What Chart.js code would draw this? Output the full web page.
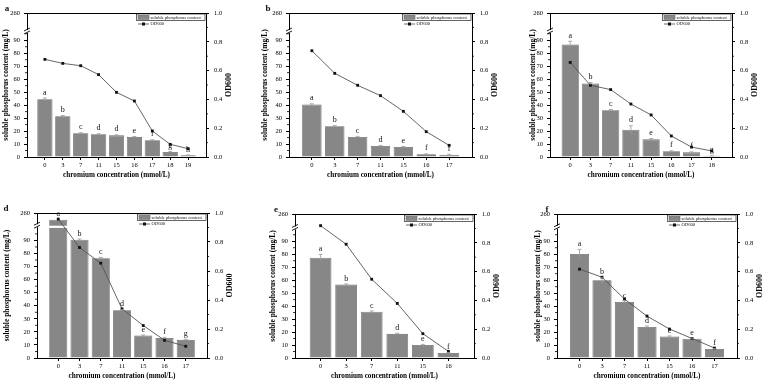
<!DOCTYPE html>
<html>
<head>
<meta charset="utf-8">
<script src="https://cdn.jsdelivr.net/npm/chart.js@4.4.1/dist/chart.umd.min.js"></script>
<style>
html, body { margin: 0; padding: 0; background: #fff; overflow: hidden; }
#wrap { position: relative; width: 767px; height: 384px; }
#wrap canvas { position: absolute; }
</style>
</head>
<body>
<div id="wrap"></div>
<script>
// values (mg/L and OD600)
var concA = ['0', '3', '7', '11', '15', '16', '17', '18', '19'];
var phosA = [44.5, 31.4, 18.3, 17.5, 16.7, 15.4, 12.9, 3.9, 1.3];
var errA = [1.0, 0.6, 0.4, 0.4, 0.4, 0.4, 0.4, 0.4, 0.3];
var odA = [0.678, 0.650, 0.634, 0.572, 0.449, 0.389, 0.181, 0.088, 0.058];
var letA = ['a', 'b', 'c', 'd', 'd', 'e', 'f', 'g', 'h'];

var concB = ['0', '3', '7', '11', '15', '16', '17'];
var phosB = [40.4, 23.7, 15.4, 8.5, 7.7, 2.1, 1.8];
var errB = [0.6, 0.5, 0.5, 0.4, 0.4, 0.3, 0.3];
var odB = [0.738, 0.581, 0.498, 0.426, 0.317, 0.176, 0.081];
var letB = ['a', 'b', 'c', 'd', 'e', 'f', 'f'];

var concC = ['0', '3', '7', '11', '15', '16', '17', '18'];
var phosC = [86.7, 56.6, 36.0, 21.1, 13.6, 4.4, 3.6, 1.0];
var errC = [2.5, 0.8, 0.6, 3.0, 0.6, 0.4, 0.4, 0.3];
var odC = [0.657, 0.498, 0.468, 0.368, 0.292, 0.146, 0.069, 0.042];
var letC = ['a', 'b', 'c', 'd', 'e', 'f', 'f', 'g'];

var concD = ['0', '3', '7', '11', '15', '16', '17'];
var phosD = [185, 90.5, 76.4, 36.5, 17.2, 15.4, 13.9];
var errD = [0, 0.6, 0.6, 0.6, 0.4, 0.4, 0.4];
var odD = [0.958, 0.762, 0.654, 0.339, 0.224, 0.122, 0.081];
var letD = ['a', 'b', 'c', 'd', 'e', 'f', 'g'];

var concE = ['0', '3', '7', '11', '15', '16'];
var phosE = [77.3, 56.6, 35.7, 18.6, 10.1, 3.9];
var errE = [2.5, 0.5, 0.6, 0.5, 0.4, 0.3];
var odE = [0.919, 0.790, 0.547, 0.379, 0.169, 0.046];
var letE = ['a', 'b', 'c', 'd', 'e', 'f'];

var concF = ['0', '3', '7', '11', '15', '16', '17'];
var phosF = [80.2, 59.9, 43.2, 23.9, 16.5, 14.9, 6.9];
var errF = [3.5, 2.0, 0.8, 0.8, 0.5, 0.5, 0.4];
var odF = [0.617, 0.561, 0.409, 0.291, 0.201, 0.136, 0.069];
var letF = ['a', 'b', 'c', 'd', 'e', 'e', 'f'];

var phosTicks = [0, 10, 20, 30, 40, 50, 60, 70, 80, 90];
var phosTopLabel = 260;
var odTicks = [0, 0.2, 0.4, 0.6, 0.8, 1.0];

var AXIS_TOP = 111;   // where 260 sits on the broken left axis
var FONT = "'Liberation Serif', 'Times New Roman', serif";

// broken axis: linear up to 100, compressed above
function toAxis(v) {
	if (v <= 100) return v;
	return 100 + (v - 100) * (AXIS_TOP - 100) / (phosTopLabel - 100);
}

var panels = [
	{ tag: 'a', cats: concA, phos: phosA, err: errA, od: odA, lets: letA, L: 27, R: 206, T: 13, B: 157, top: 0, lw: 25, rw: 28, dx: -20, brk: 96 },
	{ tag: 'b', cats: concB, phos: phosB, err: errB, od: odB, lets: letB, L: 289, R: 472, T: 13, B: 157, top: 0, lw: 28, rw: 28, dx: -21, brk: 96 },
	{ tag: 'c', cats: concC, phos: phosC, err: errC, od: odC, lets: letC, L: 550, R: 732, T: 13, B: 157, top: 0, lw: 21, rw: 28, dx: -36, brk: 96 },
	{ tag: 'd', cats: concD, phos: phosD, err: errD, od: odD, lets: letD, L: 37, R: 207, T: 213, B: 358, top: 190, lw: 34, rw: 28, dx: -31, brk: 100.5 },
	{ tag: 'e', cats: concE, phos: phosE, err: errE, od: odE, lets: letE, L: 295, R: 474, T: 214, B: 358, top: 190, lw: 26, rw: 28, dx: -19, brk: 99.5 },
	{ tag: 'f', cats: concF, phos: phosF, err: errF, od: odF, lets: letF, L: 557, R: 737, T: 214, B: 358, top: 190, lw: 23, rw: 28, dx: -10, brk: 100 }
];

var XH = 22;

var decor = {
	id: 'decor',
	afterDatasetDraw: function(chart, args, opts) {
		// white gap through bars that cross the axis break
		if (args.index !== 0) return;
		var p = opts.panel, ctx = chart.ctx, y = chart.scales.y;
		var meta = chart.getDatasetMeta(0);
		var yb = y.getPixelForValue(p.brk);
		meta.data.forEach(function(bar, i) {
			if (p.phos[i] > 100) {
				ctx.save();
				ctx.fillStyle = '#fff';
				ctx.fillRect(bar.x - bar.width / 2 - 1, yb - 1, bar.width + 2, 2.2);
				ctx.restore();
			}
		});
	},
	afterDatasetsDraw: function(chart, args, opts) {
		var p = opts.panel, ctx = chart.ctx, y = chart.scales.y;
		var meta = chart.getDatasetMeta(0);
		ctx.save();
		meta.data.forEach(function(bar, i) {
			var top = y.getPixelForValue(toAxis(p.phos[i]));
			var e = p.err[i];
			var ye = top;
			if (e > 0 && p.phos[i] <= 100) {
				ye = y.getPixelForValue(p.phos[i] + e);
				var yl = y.getPixelForValue(Math.max(p.phos[i] - e, 0));
				ctx.strokeStyle = '#9a9a9a';
				ctx.lineWidth = 0.8;
				ctx.beginPath();
				ctx.moveTo(bar.x, yl); ctx.lineTo(bar.x, ye);
				ctx.moveTo(bar.x - 2, ye); ctx.lineTo(bar.x + 2, ye);
				ctx.stroke();
			}
			ctx.fillStyle = '#111';
			ctx.font = '8px ' + FONT;
			ctx.textAlign = 'center';
			ctx.textBaseline = 'bottom';
			ctx.fillText(p.lets[i], bar.x, ye - 1.5);
		});
		ctx.restore();
	},
	afterDraw: function(chart, args, opts) {
		var p = opts.panel, ctx = chart.ctx, a = chart.chartArea;
		var y = chart.scales.y, y1 = chart.scales.y1;
		ctx.save();
		ctx.strokeStyle = '#000';
		ctx.lineWidth = 1;
		// top frame line
		ctx.beginPath();
		ctx.moveTo(a.left, a.top + 0.5); ctx.lineTo(a.right, a.top + 0.5);
		ctx.stroke();
		// minor ticks
		ctx.lineWidth = 0.8;
		ctx.beginPath();
		for (var v = 5; v < 100; v += 10) {
			var py = y.getPixelForValue(v);
			ctx.moveTo(a.left, py); ctx.lineTo(a.left - 2, py);
		}
		for (var k = 0.1; k < 1; k += 0.2) {
			var py1 = y1.getPixelForValue(k);
			ctx.moveTo(a.right, py1); ctx.lineTo(a.right + 2, py1);
		}
		ctx.stroke();
		// axis break marks
		var yb = y.getPixelForValue(p.brk);
		ctx.fillStyle = '#fff';
		ctx.fillRect(a.left - 2, yb - 2.5, 4, 3);
		ctx.lineWidth = 0.9;
		ctx.beginPath();
		ctx.moveTo(a.left - 3, yb + 1.5); ctx.lineTo(a.left + 3, yb - 1.5);
		ctx.moveTo(a.left - 3, yb - 1.5); ctx.lineTo(a.left + 3, yb - 4.5);
		ctx.stroke();
		// legend in the top right corner
		var lx = a.right - 68, ly = a.top + 1;
		ctx.lineWidth = 0.6;
		ctx.strokeRect(lx - 1.5, ly, a.right - lx + 0.5, 6.5);
		ctx.fillStyle = '#878787';
		ctx.fillRect(lx, ly + 1.3, 11, 4);
		ctx.strokeStyle = '#666';
		ctx.strokeRect(lx, ly + 1.3, 11, 4);
		ctx.strokeStyle = '#444';
		ctx.lineWidth = 0.8;
		ctx.beginPath();
		ctx.moveTo(lx, ly + 10); ctx.lineTo(lx + 11, ly + 10);
		ctx.stroke();
		ctx.fillStyle = '#111';
		ctx.fillRect(lx + 4, ly + 8.5, 3, 3);
		ctx.font = '4.6px ' + FONT;
		ctx.textAlign = 'left';
		ctx.textBaseline = 'middle';
		ctx.fillText(chart.data.datasets[0].label, lx + 12.5, ly + 3.4);
		ctx.fillText(chart.data.datasets[1].label, lx + 12.5, ly + 10);
		// right axis title, reading bottom to top
		ctx.save();
		ctx.translate(a.right + p.rw - 5, (a.top + a.bottom) / 2);
		ctx.rotate(-Math.PI / 2);
		ctx.textAlign = 'center';
		ctx.font = 'bold 8px ' + FONT;
		ctx.fillStyle = '#000';
		ctx.fillText(chart.options.scales.y1.title.text, 0, 0);
		ctx.restore();
		// panel letter
		ctx.font = 'bold 9px ' + FONT;
		ctx.textAlign = 'center';
		ctx.fillText(p.tag, a.left + p.dx, a.top - 4);
		ctx.restore();
	}
};

function tickFont() { return { family: FONT, size: 6.5 }; }
function titleFont(s) { return { family: FONT, size: s, weight: 'bold' }; }

function desenhaPainel(p) {
	var cv = document.createElement('canvas');
	var w = p.R - p.L + p.lw + p.rw;
	var h = p.B + XH - p.top;
	cv.width = w; cv.height = h;
	cv.style.left = (p.L - p.lw) + 'px';
	cv.style.top = p.top + 'px';
	cv.style.width = w + 'px';
	cv.style.height = h + 'px';
	document.getElementById('wrap').appendChild(cv);

	var n = p.cats.length;
	var barras = p.phos.map(function(v, i) { return { x: i, y: toAxis(v) }; });
	var linha = p.od.map(function(v, i) { return { x: i, y: v }; });

	new Chart(cv.getContext('2d'), {
		type: 'bar',
		data: {
			datasets: [{
				type: 'bar',
				label: 'soluble phosphorus content',
				data: barras,
				yAxisID: 'y',
				backgroundColor: '#878787',
				borderColor: '#6a6a6a',
				borderWidth: 0.8,
				barPercentage: 0.85,
				categoryPercentage: 1,
				order: 2
			}, {
				type: 'line',
				label: 'OD600',
				data: linha,
				yAxisID: 'y1',
				borderColor: '#555',
				borderWidth: 0.9,
				pointStyle: 'rect',
				pointRadius: 2,
				pointBackgroundColor: '#111',
				pointBorderColor: '#111',
				pointBorderWidth: 0,
				tension: 0,
				order: 1
			}]
		},
		options: {
			responsive: false,
			animation: false,
			devicePixelRatio: 1,
			layout: { padding: { top: p.T - p.top, left: 0, right: 0, bottom: 0 } },
			plugins: {
				legend: { display: false },
				tooltip: { enabled: false },
				decor: { panel: p }
			},
			scales: {
				x: {
					type: 'linear',
					min: -1,
					max: n,
					offset: false,
					grid: { display: true, drawOnChartArea: false, offset: false, tickLength: 3, color: '#000' },
					border: { display: true, color: '#000', width: 1 },
					afterBuildTicks: function(s) { s.ticks = p.cats.map(function(c, i) { return { value: i }; }); },
					afterFit: function(s) { s.height = XH; },
					ticks: {
						font: tickFont(), color: '#000', padding: 1, maxRotation: 0, autoSkip: false,
						callback: function(v) { return p.cats[v]; }
					},
					title: { display: true, text: 'chromium concentration (mmol/L)', font: titleFont(7.2), color: '#000', padding: 0 }
				},
				y: {
					type: 'linear',
					position: 'left',
					min: 0,
					max: AXIS_TOP,
					grid: { display: true, drawOnChartArea: false, tickLength: 3, color: '#000' },
					border: { display: true, color: '#000', width: 1 },
					afterBuildTicks: function(s) {
						s.ticks = phosTicks.map(function(v) { return { value: v }; }).concat([{ value: AXIS_TOP }]);
					},
					afterFit: function(s) { s.width = p.lw; },
					ticks: {
						font: tickFont(), color: '#000', padding: 4,
						callback: function(v) { return v === AXIS_TOP ? String(phosTopLabel) : v; }
					},
					title: { display: true, text: 'soluble phosphorus content (mg/L)', font: titleFont(7.5), color: '#000', padding: 0 }
				},
				y1: {
					type: 'linear',
					position: 'right',
					min: 0,
					max: 1,
					grid: { display: true, drawOnChartArea: false, tickLength: 3, color: '#000' },
					border: { display: true, color: '#000', width: 1 },
					afterBuildTicks: function(s) { s.ticks = odTicks.map(function(v) { return { value: v }; }); },
					afterFit: function(s) { s.width = p.rw; },
					ticks: {
						font: tickFont(), color: '#000', padding: 5,
						callback: function(v) { return v.toFixed(1); }
					},
					title: { display: false, text: 'OD600' }
				}
			}
		},
		plugins: [decor]
	});
}

panels.forEach(desenhaPainel);
</script>
</body>
</html>
